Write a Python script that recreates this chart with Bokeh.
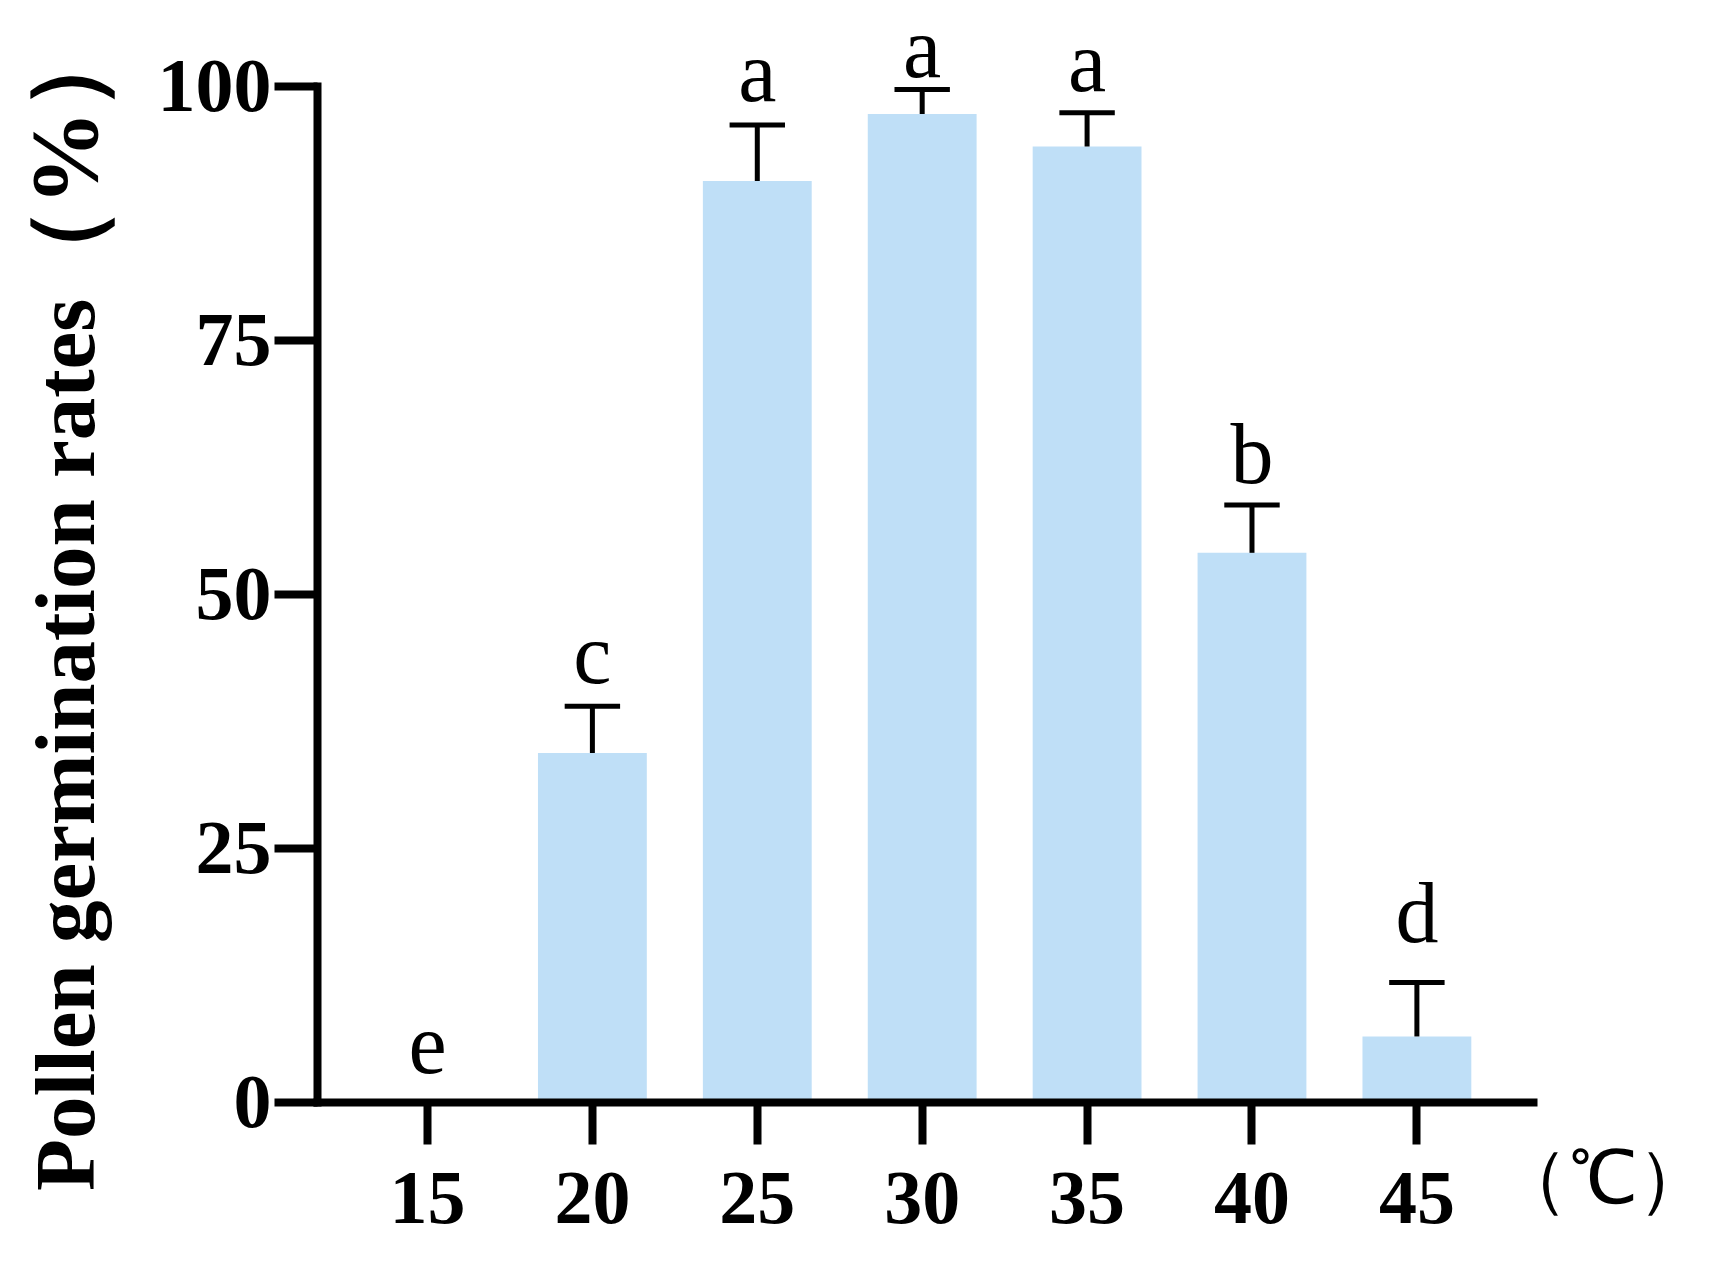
import math
from bokeh.plotting import figure
from bokeh.models import ColumnDataSource, Range1d, FixedTicker, LabelSet, Label
from bokeh.core.properties import value
from bokeh.embed import file_html
from bokeh.resources import INLINE

# ---- data ----
temps = [15, 20, 25, 30, 35, 40, 45]
tick_labels = ["15", "20", "25", "30", "35", "40", "45"]
rates = [0.0, 34.4, 90.7, 97.3, 94.1, 54.1, 6.5]        # bar means (%)
upper = [0.0, 39.0, 96.2, 99.7, 97.4, 58.8, 11.8]       # mean + error (%)
letters = ["e", "c", "a", "a", "a", "b", "d"]
letter_y = [2.95, 41.3, 98.6, 100.9, 99.6, 61.0, 15.8]  # baseline of letters
y_ticks = [0, 25, 50, 75, 100]

BAR_COLOR = "#BFDFF7"
SERIF = "Liberation Serif"

X0, X1 = 2.053, 54.115        # visible x extent (axis itself spans 11.665..48.535)
Y0, Y1 = -14.37, 108.46       # visible y extent (axis itself spans 0..100)
XAX = (11.665, 48.535)

p = figure(width=1717, height=1248,
           x_range=Range1d(X0, X1), y_range=Range1d(Y0, Y1),
           min_border=0,
           output_backend="svg", toolbar_location=None)
p.outline_line_color = None
p.grid.visible = False
p.background_fill_color = "white"
p.border_fill_color = "white"

src = ColumnDataSource(dict(x=temps, top=rates, up=upper))
p.vbar(x="x", top="top", width=3.3, bottom=0, source=src,
       fill_color=BAR_COLOR, line_color=None)

# error bars (only where there is an error)
ex = [t for t, r, u in zip(temps, rates, upper) if u > r]
er = [r for r, u in zip(rates, upper) if u > r]
eu = [u for r, u in zip(rates, upper) if u > r]
half = 0.84
p.segment(x0=ex, y0=er, x1=ex, y1=eu, line_color="black", line_width=5)
p.segment(x0=[t - half for t in ex], y0=eu, x1=[t + half for t in ex], y1=eu,
          line_color="black", line_width=5)

# significance letters
lsrc = ColumnDataSource(dict(x=temps, y=letter_y, t=letters))
p.add_layout(LabelSet(x="x", y="y", text="t", source=lsrc,
                      text_font=value(SERIF), text_font_size="86px",
                      text_align="center", text_baseline="alphabetic",
                      text_color="black"))

# axes, drawn at fixed data locations inside the canvas
xa = p.xaxis[0]
xa.ticker = FixedTicker(ticks=temps)
xa.major_label_overrides = {t: l for t, l in zip(temps, tick_labels)}
xa.fixed_location = 0
xa.bounds = XAX
ya = p.yaxis[0]
ya.ticker = FixedTicker(ticks=y_ticks)
ya.fixed_location = XAX[0]
ya.bounds = (0, 100)
for ax, tout in ((xa, 42), (ya, 43)):
    ax.axis_line_width = 8
    ax.axis_line_color = "black"
    ax.axis_line_cap = "square"
    ax.major_tick_line_width = 8
    ax.major_tick_line_color = "black"
    ax.major_tick_in = 0
    ax.major_tick_out = tout
    ax.minor_tick_line_color = None
    ax.major_label_text_font = SERIF
    ax.major_label_text_font_style = "bold"
    ax.major_label_text_font_size = "76px"
    ax.major_label_text_color = "black"
xa.major_label_standoff = 29
ya.major_label_standoff = 3

# axis titles
p.add_layout(Label(x=4.02, y=-8.71, text="Pollen germination rates",
                   angle=math.pi / 2, text_font=SERIF, text_font_style="bold",
                   text_font_size="85px", text_align="left",
                   text_baseline="alphabetic", text_color="black"))
p.add_layout(Label(x=4.02, y=92.95, text="（%）",
                   angle=math.pi / 2, text_font=SERIF, text_font_style="bold",
                   text_font_size="95px", text_align="center",
                   text_baseline="alphabetic", text_color="black"))
p.add_layout(Label(x=50.65, y=-7.4, text="（℃）",
                   text_font=SERIF, text_font_size="74px",
                   text_align="center", text_baseline="middle",
                   text_color="black"))

open("out.html", "w").write(file_html(p, INLINE))
